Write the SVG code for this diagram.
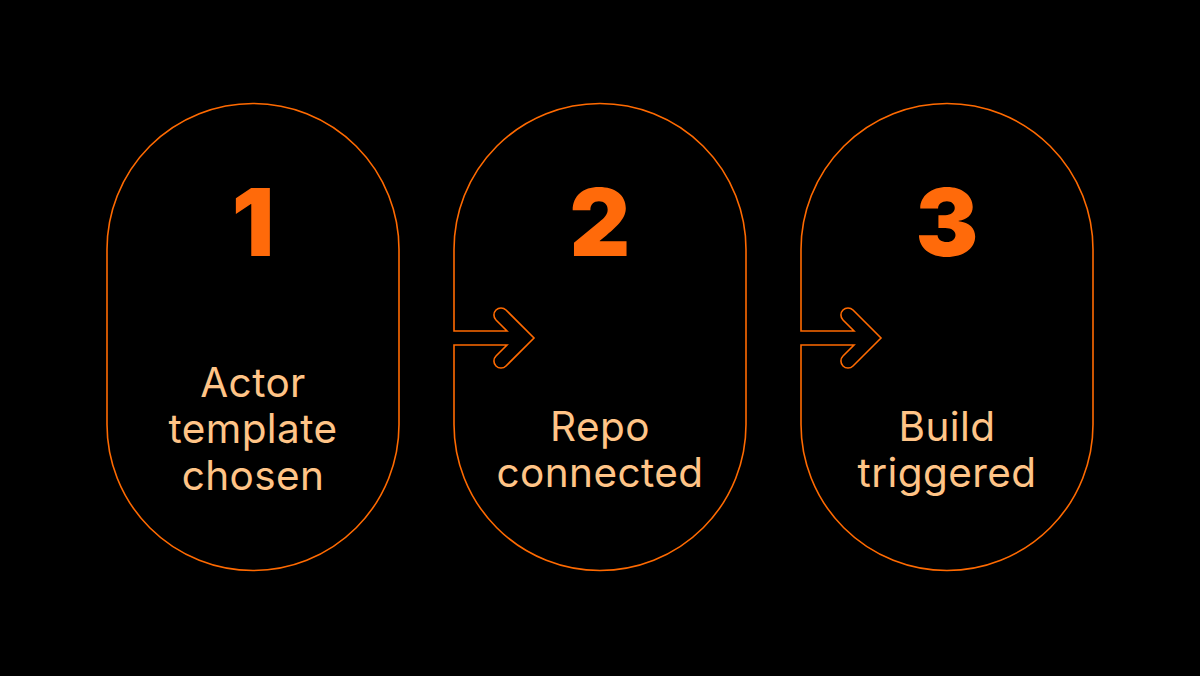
<svg xmlns="http://www.w3.org/2000/svg" width="1200" height="676" viewBox="0 0 1200 676">
<style>
.pill{fill:none;stroke:#FF6A00;stroke-width:1.6;}
.num{font-family:Inter,"Liberation Sans",sans-serif;font-weight:900;font-size:94px;fill:#FF6A0A;text-anchor:middle;}
.lbl{font-family:Inter,"Liberation Sans",sans-serif;font-weight:400;font-size:40.5px;letter-spacing:0.4px;fill:#FFC487;text-anchor:middle;}
</style>
<rect x="0" y="0" width="1200" height="676" fill="#000000"/>
<g id="step1">
<rect class="pill" x="107" y="103.5" width="292" height="467" rx="146" ry="146"/>
<text class="num" x="253" y="256">1</text>
<text class="lbl" x="253" y="397">Actor</text>
<text class="lbl" x="253" y="443">template</text>
<text class="lbl" x="253" y="490">chosen</text>
</g>
<g id="step2">
<path class="pill" d="M507,331 L454,331 L454,249.5 A146 146 0 0 1 746,249.5 L746,424.5 A146 146 0 0 1 454,424.5 L454,345 L507,345 L496,356 A7 7 0 0 0 506,366 L534,338 L506,310 A7 7 0 0 0 496,320 Z"/>
<text class="num" x="600" y="256">2</text>
<text class="lbl" x="600" y="441">Repo</text>
<text class="lbl" x="600" y="487">connected</text>
</g>
<g id="step3">
<path class="pill" d="M854,331 L801,331 L801,249.5 A146 146 0 0 1 1093,249.5 L1093,424.5 A146 146 0 0 1 801,424.5 L801,345 L854,345 L843,356 A7 7 0 0 0 853,366 L881,338 L853,310 A7 7 0 0 0 843,320 Z"/>
<text class="num" x="947" y="256">3</text>
<text class="lbl" x="947" y="441">Build</text>
<text class="lbl" x="947" y="487">triggered</text>
</g>
<g id="connectors"></g>
</svg>
